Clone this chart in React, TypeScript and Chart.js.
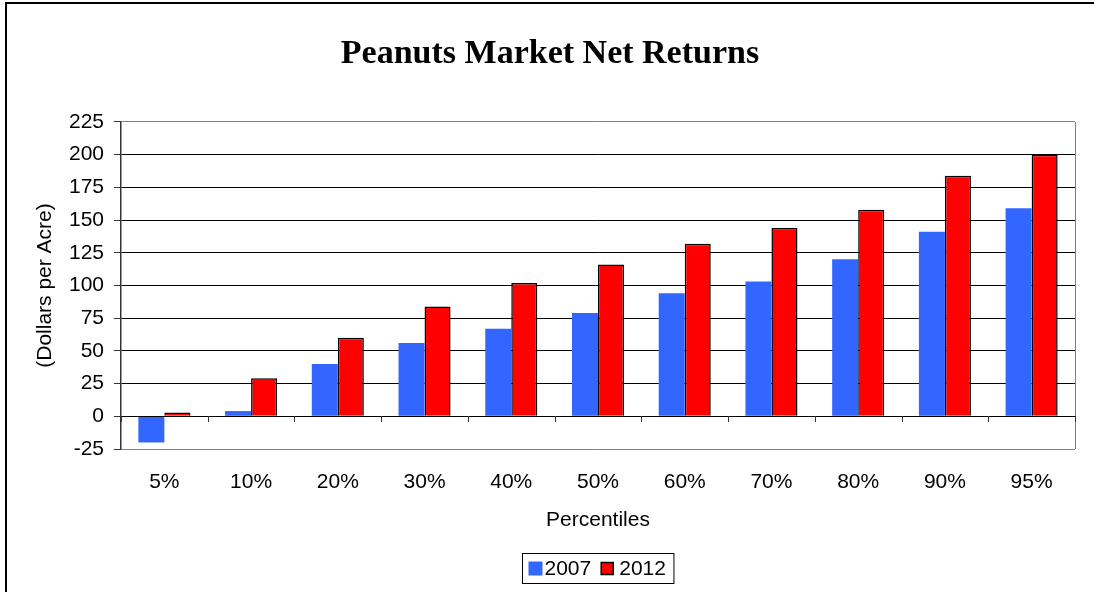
import React, { useEffect, useRef } from "react";
import { Chart, registerables } from "chart.js";

Chart.register(...registerables);

const categories = ["5%", "10%", "20%", "30%", "40%", "50%", "60%", "70%", "80%", "90%", "95%"];
const series2007 = [-20, 4, 40, 56, 67, 79, 94, 103, 120, 141, 159];
const series2012 = [3, 29, 60, 84, 102, 116, 132, 144, 158, 184, 200];
const seriesLabels = ["2007", "2012"];
const yMin = -25;
const yMax = 225;
const yStep = 25;

const SANS = "'Liberation Sans', Arial, sans-serif";
const SERIF = "'Liberation Serif', 'Times New Roman', serif";
const FS = 21;

const decorPlugin = {
  id: "decor",
  afterDatasetsDraw(chart: any) {
    const { ctx, chartArea, scales } = chart;
    const y = scales.y;
    const y0 = y.getPixelForValue(0);
    ctx.save();
    ctx.strokeStyle = "#808080";
    ctx.lineWidth = 1;
    ctx.beginPath();
    ctx.moveTo(chartArea.right + 0.5, chartArea.top);
    ctx.lineTo(chartArea.right + 0.5, chartArea.bottom);
    ctx.stroke();
    ctx.strokeStyle = "#000";
    ctx.beginPath();
    ctx.moveTo(chartArea.left, Math.round(y0) + 0.5);
    ctx.lineTo(chartArea.right, Math.round(y0) + 0.5);
    ctx.stroke();
    const n = categories.length;
    const w = (chartArea.right - chartArea.left) / n;
    ctx.strokeStyle = "#333";
    for (let i = 0; i <= n; i++) {
      const px = Math.round(chartArea.left + i * w) + 0.5;
      ctx.beginPath();
      ctx.moveTo(px, Math.round(y0));
      ctx.lineTo(px, Math.round(y0) + 6);
      ctx.stroke();
    }
    ctx.restore();
  },
  afterDraw(chart: any) {
    const { ctx, chartArea } = chart;
    ctx.save();
    ctx.font = `${FS}px ${SANS}`;
    const sq = 14;
    const w1 = ctx.measureText(seriesLabels[0]).width;
    const w2 = ctx.measureText(seriesLabels[1]).width;
    const inner = sq + 2 + w1 + 10 + 13 + 5 + w2;
    const boxW = inner + 6 + 8;
    const boxH = 30;
    const cx = (chartArea.left + chartArea.right) / 2;
    const bx = Math.round(cx - boxW / 2) + 0.5;
    const by = 553.5;
    ctx.strokeStyle = "#000";
    ctx.lineWidth = 1;
    ctx.fillStyle = "#fff";
    ctx.fillRect(bx, by, boxW, boxH);
    ctx.strokeRect(bx, by, boxW, boxH);
    let px = bx + 6;
    const midY = by + boxH / 2;
    ctx.fillStyle = "#3366FF";
    ctx.fillRect(px, midY - sq / 2, sq, sq);
    px += sq + 2;
    ctx.fillStyle = "#000";
    ctx.textBaseline = "middle";
    ctx.textAlign = "left";
    ctx.fillText(seriesLabels[0], px, midY + 1);
    px += w1 + 10;
    ctx.fillStyle = "#FF0000";
    ctx.fillRect(px, midY - 6, 12, 12);
    ctx.strokeStyle = "#000";
    ctx.lineWidth = 1.5;
    ctx.strokeRect(px, midY - 6, 12, 12);
    px += 13 + 5;
    ctx.fillStyle = "#000";
    ctx.fillText(seriesLabels[1], px, midY + 1);
    ctx.restore();
  },
};

export default function App() {
  const canvasRef = useRef<HTMLCanvasElement | null>(null);

  useEffect(() => {
    document.body.style.margin = "0";
    const canvas = canvasRef.current;
    if (!canvas) return;
    const chart = new Chart(canvas, {
      type: "bar",
      data: {
        labels: categories,
        datasets: [
          {
            label: seriesLabels[0],
            data: series2007,
            backgroundColor: "#3366FF",
            borderWidth: 0,
            categoryPercentage: 0.6,
            barPercentage: 1.0,
          },
          {
            label: seriesLabels[1],
            data: series2012,
            backgroundColor: "#FF0000",
            borderColor: "#000000",
            borderWidth: 1.5,
            categoryPercentage: 0.6,
            barPercentage: 1.0,
          },
        ],
      },
      options: {
        animation: false,
        responsive: false,
        maintainAspectRatio: false,
        devicePixelRatio: 1,
        layout: { padding: { left: 25, right: 19, top: 0, bottom: 0 } },
        plugins: {
          legend: { display: false },
          tooltip: { enabled: false },
          title: {
            display: true,
            text: "Peanuts Market Net Returns",
            color: "#000",
            font: { family: SERIF, size: 34, weight: "bold", lineHeight: 1.2 },
            padding: { top: 33.4, bottom: 47.8 },
          },
        },
        scales: {
          x: {
            grid: { display: false, drawTicks: false },
            border: { display: false },
            ticks: {
              color: "#000",
              font: { family: SANS, size: FS, lineHeight: 1.2 },
              padding: 21,
              maxRotation: 0,
              autoSkip: false,
            },
            title: {
              display: true,
              text: "Percentiles",
              color: "#000",
              font: { family: SANS, size: FS, lineHeight: 1.2 },
              padding: { top: 0, bottom: 59 },
            },
            afterFit(scale: any) {
              scale.height = 143;
            },
          },
          y: {
            min: yMin,
            max: yMax,
            ticks: {
              stepSize: yStep,
              color: "#000",
              font: { family: SANS, size: FS },
              padding: 10,
            },
            grid: {
              color: (c: any) => {
                const v = c.tick ? c.tick.value : 0;
                return v === yMax || v === yMin ? "#808080" : "#000000";
              },
              tickColor: "#333",
              tickLength: 7,
              lineWidth: 1,
            },
            border: { display: true, color: "#333", width: 1.5 },
            title: {
              display: true,
              text: "(Dollars per Acre)",
              color: "#000",
              font: { family: SANS, size: FS, lineHeight: 1.2 },
              padding: { top: 7.4, bottom: 0 },
            },
            afterFit(scale: any) {
              scale.width = 96;
            },
          },
        },
      },
      plugins: [decorPlugin],
    } as any);
    return () => chart.destroy();
  }, []);

  return (
    <div style={{ position: "fixed", left: 0, top: 0, width: 1094, height: 592, overflow: "hidden", background: "#fff" }}>
      <canvas ref={canvasRef} width={1094} height={592} style={{ position: "absolute", left: 0, top: 0, width: 1094, height: 592 }} />
      <div
        style={{
          position: "absolute",
          left: 5,
          top: 2,
          width: 1200,
          height: 700,
          borderTop: "2px solid #000",
          borderLeft: "2px solid #000",
          pointerEvents: "none",
        }}
      />
    </div>
  );
}
